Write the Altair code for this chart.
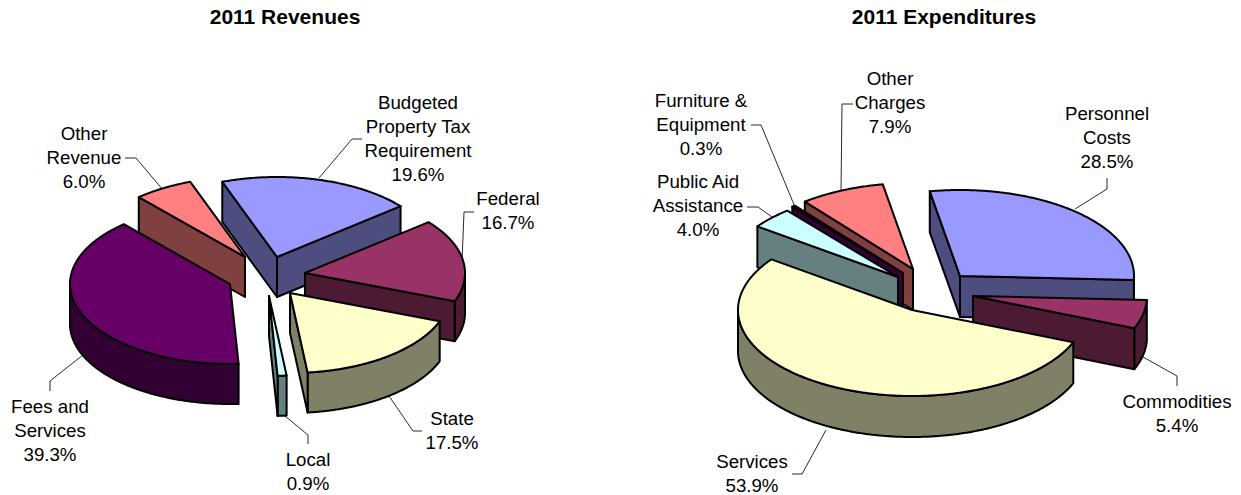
import math
import altair as alt

# ---- values ----
rev_names = ["Budgeted\nProperty Tax\nRequirement", "Federal", "State", "Local", "Fees and\nServices", "Other\nRevenue"]
rev_share = [19.6, 16.7, 17.5, 0.9, 39.3, 6.0]
exp_names = ["Personnel\nCosts", "Commodities", "Services", "Public Aid\nAssistance", "Furniture &\nEquipment", "Other\nCharges"]
exp_share = [28.5, 5.4, 53.9, 4.0, 0.3, 7.9]
titles = ["2011 Revenues", "2011 Expenditures"]

# ---- styling / layout (not data) ----
palette = {"a": ("#9999FF", "#4D4D80"), "b": ("#993366", "#4D1A33"), "c": ("#FFFFCC", "#808066"),
           "d": ("#CCFFFF", "#668080"), "e": ("#660066", "#330033"), "f": ("#FF8080", "#804040")}
rev_cols = ["a", "b", "c", "d", "e", "f"]
exp_cols = ["a", "b", "c", "d", "e", "f"]

left = dict(centre=(265, 280), rx=160, ry=80, depth=40, start=-20,
            explode=[(12, -23), (40, -7), (25, 13), (4, 16), (-35, 4), (-20, -23)],
            paint=[5, 0, 1, 2, 3, 4],
            label=[(418, 103), (508, 199), (452, 419), (308, 460), (50, 407), (84, 134)])
right = dict(centre=(925, 290), rx=174, ry=86, depth=41, start=-10,
             explode=[(35, -14), (48, 6), (-13, 20), (-27, -13), (-22, -17), (-12, -21)],
             paint=[0, 5, 4, 3, 1, 2],
             label=[(1107, 114), (1177, 402), (752, 462), (698, 182), (701, 101), (890, 79)])

leaders = [
    [(319, 178), (352, 139), (362, 139)], [(462, 262), (464, 212), (474, 212)],
    [(389, 396), (413, 431), (422, 431)], [(285, 416), (308, 435), (308, 444)],
    [(83, 355), (50, 381), (50, 391)], [(125, 158), (136, 158), (163, 190)],
    [(1075, 209), (1107, 189), (1107, 178)], [(1143, 357), (1177, 376), (1177, 386)],
    [(826, 430), (802, 474), (792, 474)], [(747, 207), (758, 207), (772, 217)],
    [(751, 125), (761, 125), (795, 207)], [(853, 104), (842, 104), (841, 192)],
]


def feature(coords, fill):
    ring = [[float(x), float(y)] for x, y in coords]
    ring.append(ring[0])
    return {"type": "Feature", "properties": {"fill": fill},
            "geometry": {"type": "Polygon", "coordinates": [ring]}}


def pie(shares, names, cols, cfg):
    faces, texts = [], []
    cx, cy = cfg["centre"]
    rx, ry, d = cfg["rx"], cfg["ry"], cfg["depth"]
    spans, t = [], cfg["start"]
    for s in shares:
        spans.append((t, t + s * 3.6))
        t += s * 3.6

    def rim(ax, ay, deg):
        r = math.radians(deg)
        return ax + rx * math.sin(r), ay - ry * math.cos(r)

    for i in cfg["paint"]:
        t0, t1 = spans[i]
        ax, ay = cx + cfg["explode"][i][0], cy + cfg["explode"][i][1]
        top, side = palette[cols[i]]
        n = max(2, int((t1 - t0) * 2))
        degs = [t0 + (t1 - t0) * k / n for k in range(n + 1)]
        # front rim wall
        for lo, hi in ((90, 270), (450, 630)):
            a, b = max(t0, lo), min(t1, hi)
            if b > a:
                m = max(2, int((b - a) * 2))
                arc = [rim(ax, ay, a + (b - a) * k / m) for k in range(m + 1)]
                faces.append(feature(arc + [(x, y + d) for x, y in reversed(arc)], side))
        # radial walls that face the viewer
        if math.sin(math.radians(t0)) < 0:
            p = rim(ax, ay, t0)
            faces.append(feature([(ax, ay), p, (p[0], p[1] + d), (ax, ay + d)], side))
        if math.sin(math.radians(t1)) > 0:
            p = rim(ax, ay, t1)
            faces.append(feature([(ax, ay), p, (p[0], p[1] + d), (ax, ay + d)], side))
        faces.append(feature([(ax, ay)] + [rim(ax, ay, v) for v in degs], top))
    for name, share, (lx, ly) in zip(names, shares, cfg["label"]):
        for k, line in enumerate(name.split("\n") + [f"{share:.1f}%"]):
            texts.append({"lon": lx, "lat": ly + k * 24, "line": line})
    return faces, texts


f1, t1 = pie(rev_share, rev_names, rev_cols, left)
f2, t2 = pie(exp_share, exp_names, exp_cols, right)

proj = dict(type="identity", scale=1, translate=[-8, -8])
FONT = "Liberation Sans"

lines = [{"type": "Feature", "properties": {},
          "geometry": {"type": "LineString", "coordinates": [list(p) for p in seg]}} for seg in leaders]

leader_layer = alt.Chart(alt.Data(values=lines)).mark_geoshape(
    filled=False, stroke="#111111", strokeWidth=0.9).project(**proj)
slice_layer = alt.Chart(alt.Data(values=f1 + f2)).mark_geoshape(
    stroke="black", strokeWidth=2, strokeJoin="round").encode(
    fill=alt.Fill("properties.fill:N", scale=None)).project(**proj)
label_layer = alt.Chart(alt.Data(values=t1 + t2)).mark_text(
    font=FONT, fontSize=18.7, color="black", align="center", baseline="middle").encode(
    longitude="lon:Q", latitude="lat:Q", text="line:N").project(**proj)
title_rows = [{"lon": 285, "lat": 18, "line": titles[0]}, {"lon": 944, "lat": 18, "line": titles[1]}]
title_layer = alt.Chart(alt.Data(values=title_rows)).mark_text(
    font=FONT, fontSize=21, fontWeight="bold", color="black", align="center", baseline="middle").encode(
    longitude="lon:Q", latitude="lat:Q", text="line:N").project(**proj)

chart = alt.layer(leader_layer, slice_layer, label_layer, title_layer).properties(
    width=1225, height=487, padding=0, background="white"
).configure_view(stroke=None)

chart.save("out.html", embed_options={"renderer": "svg", "actions": False})
